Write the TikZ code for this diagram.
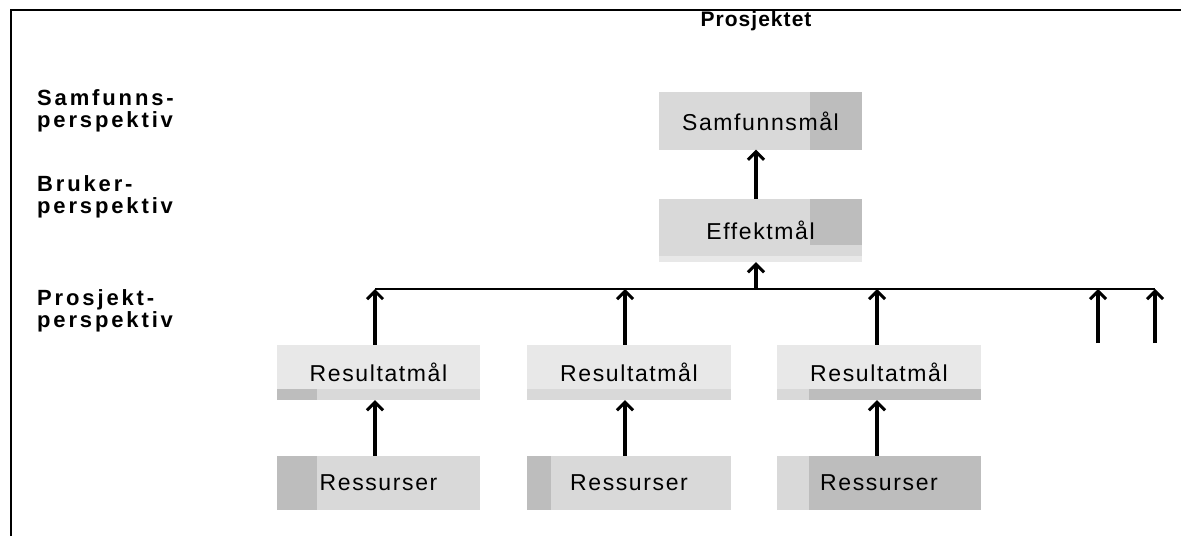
\documentclass[tikz,border=0pt]{standalone}
\usepackage{fontspec}
\setmainfont{Liberation Sans}
\usetikzlibrary{arrows.meta,backgrounds}
\definecolor{boxlight}{gray}{0.85}
\definecolor{boxpale}{gray}{0.91}
\definecolor{boxdark}{gray}{0.74}
\tikzset{
  goalbox/.style={rectangle, minimum width=203pt, minimum height=57pt, inner sep=0pt,
    font=\fontsize{23}{26}\selectfont\addfontfeature{LetterSpace=7}},
  sidelabel/.style={anchor=west, align=left, inner sep=0pt,
    font=\fontsize{22}{22.5}\selectfont\bfseries\addfontfeature{LetterSpace=13}},
  uparrow/.style={line width=3.2pt, -{Straight Barb[length=8pt,width=16pt,line width=3pt]}},
  hline/.style={line width=2.8pt},
  frameline/.style={line width=2pt}
}
\begin{document}
\begin{tikzpicture}[x=1pt,y=-1pt]
\useasboundingbox (0,0) rectangle (1181,536);
% frame
\draw[frameline] (11,536) -- (11,10) -- (1181,10);
% title
\node[font=\fontsize{21}{22}\selectfont\bfseries\addfontfeature{LetterSpace=5}] (title) at (756,21) {Prosjektet};
% side labels
\node[sidelabel] (lsam) at (37,111) {Samfunns-\\perspektiv};
\node[sidelabel] (lbru) at (37,197) {Bruker-\\perspektiv};
\node[sidelabel] (lpro) at (37,311) {Prosjekt-\\perspektiv};
% boxes
\node[goalbox] (sam) at (760.5,121) {Samfunnsmål};
\node[goalbox, minimum height=63pt] (eff) at (760.5,230.5) {Effektmål};
\node[goalbox, minimum height=55pt] (res1) at (378.5,372.5) {Resultatmål};
\node[goalbox, minimum height=55pt] (res2) at (629,372.5) {Resultatmål};
\node[goalbox, minimum height=55pt] (res3) at (879,372.5) {Resultatmål};
\node[goalbox, minimum height=54pt] (ress1) at (378.5,483) {Ressurser};
\node[goalbox, minimum height=54pt] (ress2) at (629,483) {Ressurser};
\node[goalbox, minimum height=54pt] (ress3) at (879,483) {Ressurser};
\begin{scope}[on background layer]
  % Samfunnsmaal: light with darker right part
  \fill[boxlight] (sam.north west) rectangle (sam.south east);
  \fill[boxdark] ([xshift=-52pt]sam.north east) rectangle (sam.south east);
  % Effektmaal: light top, darker right top, pale bottom
  \fill[boxlight] (eff.north west) rectangle ([yshift=-25pt]eff.east);
  \fill[boxdark] ([xshift=-52pt]eff.north east) rectangle ([yshift=-14pt]eff.east);
  \fill[boxpale] ([yshift=-25pt]eff.west) rectangle (eff.south east);
  % Resultatmaal: pale top, darker bottom strip
  \foreach \r in {res1,res2,res3} {
    \fill[boxpale] (\r.north west) rectangle (\r.south east);
    \fill[boxlight] ([yshift=11pt]\r.south west) rectangle (\r.south east);
  }
  \fill[boxdark] ([yshift=11pt]res1.south west) rectangle ([xshift=40pt]res1.south west);
  \fill[boxdark] ([yshift=11pt,xshift=32pt]res3.south west) rectangle (res3.south east);
  % Ressurser: gray with darker strip
  \foreach \r in {ress1,ress2,ress3} {
    \fill[boxlight] (\r.north west) rectangle (\r.south east);
  }
  \fill[boxdark] (ress1.north west) rectangle ([xshift=40pt]ress1.south west);
  \fill[boxdark] (ress2.north west) rectangle ([xshift=24pt]ress2.south west);
  \fill[boxdark] ([xshift=32pt]ress3.north west) rectangle (ress3.south east);
\end{scope}
% connectors
\coordinate (hl) at (375,289);
\coordinate (hr) at (1155,289);
\coordinate (hm) at (756,289);
\coordinate (h2) at (625,289);
\coordinate (h3) at (877,289);
\coordinate (f1) at (1098,289);
\coordinate (f1b) at (1098,343);
\coordinate (f2b) at (1155,343);
\draw[hline] (hl) -- (hr);
\draw[uparrow] (eff.north -| hm) -- (sam.south -| hm);
\draw[uparrow] (hm) -- (eff.south -| hm);
\draw[uparrow] (res1.north -| hl) -- (hl);
\draw[uparrow] (res2.north -| h2) -- (h2);
\draw[uparrow] (res3.north -| h3) -- (h3);
\draw[uparrow] (f1b) -- (f1);
\draw[uparrow] (f2b) -- (hr);
\draw[uparrow] (ress1.north -| hl) -- (res1.south -| hl);
\draw[uparrow] (ress2.north -| h2) -- (res2.south -| h2);
\draw[uparrow] (ress3.north -| h3) -- (res3.south -| h3);
\end{tikzpicture}
\end{document}
